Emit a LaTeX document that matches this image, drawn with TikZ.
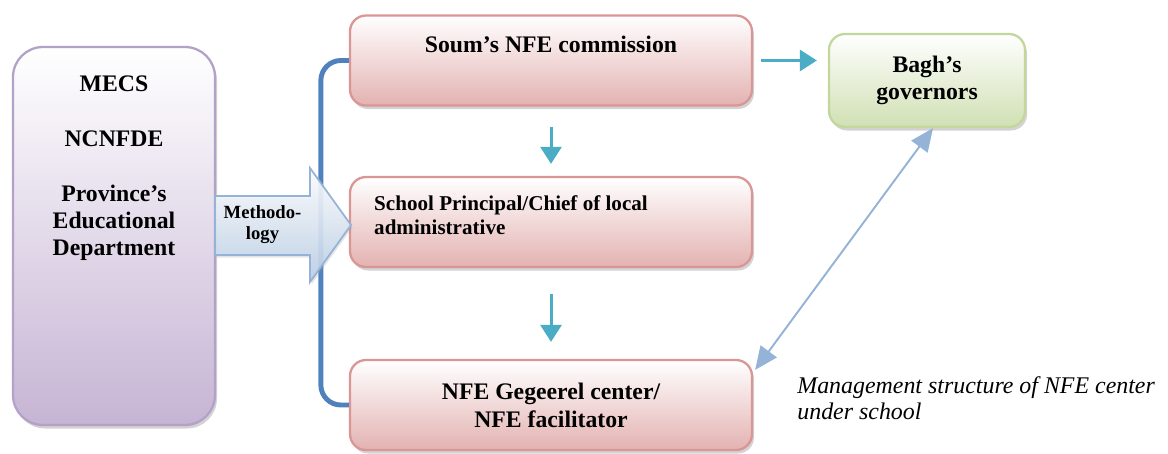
\documentclass[tikz,border=0pt]{standalone}
\usepackage{fontspec}
\setmainfont{Liberation Serif}
\usepackage{xcolor}
\usepackage{tikz}
\usetikzlibrary{positioning,shadows,arrows.meta,calc}
\definecolor{pinkline}{HTML}{D99694}
\definecolor{pinkfill}{HTML}{E3B2B1}
\definecolor{lilacline}{HTML}{B3A2C7}
\definecolor{lilacfill}{HTML}{C6B4D4}
\definecolor{greenline}{HTML}{C3D69B}
\definecolor{greenfill}{HTML}{D0E0B3}
\definecolor{tealarrow}{HTML}{4BACC6}
\definecolor{bracketblue}{HTML}{4F81BD}
\definecolor{linkblue}{HTML}{95B3D7}
\definecolor{arrowfill}{HTML}{B9CDE6}

\begin{document}
\begin{tikzpicture}[
	box/.style={rectangle,rounded corners=0.32cm,line width=1.3pt,align=center,
		font=\fontsize{13.5}{15.3}\selectfont\bfseries,
		drop shadow={shadow xshift=0.04cm,shadow yshift=-0.07cm,opacity=0.35,fill=black!50}},
	pinkbox/.style={box,draw=pinkline,top color=white,bottom color=pinkfill,minimum width=8.04cm,minimum height=1.8cm},
	boxtext/.style={inner sep=0pt,align=center,font=\fontsize{13.5}{15.3}\selectfont\bfseries},
	flowarrow/.style={-{Triangle[length=0.34cm,width=0.42cm]},line width=1.7pt,tealarrow},
	linkarrow/.style={{Triangle[length=0.46cm,width=0.4cm]}-{Triangle[length=0.46cm,width=0.4cm]},line width=1.1pt,linkblue},
	bracket/.style={bracketblue,line width=2.8pt,rounded corners=0.4cm}]
		\useasboundingbox (0,0) rectangle (23.36,-9.06);
		\node[box,draw=lilacline,top color=white,bottom color=lilacfill,rounded corners=0.6cm,minimum width=4.04cm,minimum height=7.56cm] (mecs) at (2.28,-4.72) {};
		\node[boxtext,below=0.6cm of mecs.north] (mecs text) {MECS\\[0.56cm]NCNFDE\\[0.56cm]Province's\\Educational\\Department};
		\node[pinkbox] (soum) at (11.02,-1.21) {};
		\node[boxtext,below=0.42cm of soum.north] (soum text) {Soum's NFE commission};
		\node[pinkbox] (school) at (11.02,-4.44) {};
		\node[boxtext,anchor=west,align=left,font=\fontsize{12}{13.6}\selectfont\bfseries] (school text) at ($(school.west)+(0.5,0.13)$) {School Principal/Chief of local\\administrative};
		\node[pinkbox,font=\fontsize{13.5}{15.9}\selectfont\bfseries] (nfe) at (11.02,-8.1) {NFE Gegeerel center/\\NFE facilitator};
		\node[box,draw=greenline,top color=white,bottom color=greenfill,minimum width=3.92cm,minimum height=1.86cm] (bagh) at (18.54,-1.61) {Bagh's\\governors};
		\draw[bracket] (soum.west) -- ++(-0.56,0) |- (nfe.west);
		\draw[draw=linkblue,line width=1pt,top color=white,bottom color=arrowfill,fill opacity=0.9,
			drop shadow={shadow xshift=0.03cm,shadow yshift=-0.05cm,opacity=0.25,fill=black!40}]
			(4.3,-3.92) -- (6.2,-3.92) -- (6.2,-3.36) -- (7.02,-4.5) -- (6.2,-5.64) -- (6.2,-5.1) -- (4.3,-5.1) -- cycle;
		\node[boxtext,font=\fontsize{10.6}{11.9}\selectfont\bfseries] (method) at (5.25,-4.5) {Methodo-\\logy};
		\draw[flowarrow,shorten <=0.16cm,shorten >=0.22cm] (soum.east) -- (soum.east -| bagh.west);
		\draw[flowarrow,shorten <=0.4cm,shorten >=0.24cm] (soum.south) -- (school.north);
		\draw[flowarrow,shorten <=0.52cm,shorten >=0.34cm] (school.south) -- (nfe.north);
		\draw[linkarrow] ([xshift=0.12cm]bagh.south) -- ([shift={(0.04,-0.22)}]nfe.north east);
		\node[anchor=north west,inner sep=0pt,align=left,font=\fontsize{13.6}{14.7}\selectfont\itshape] (caption) at (15.94,-7.52) {Management structure of NFE center\\under school};
	\end{tikzpicture}
\end{document}
